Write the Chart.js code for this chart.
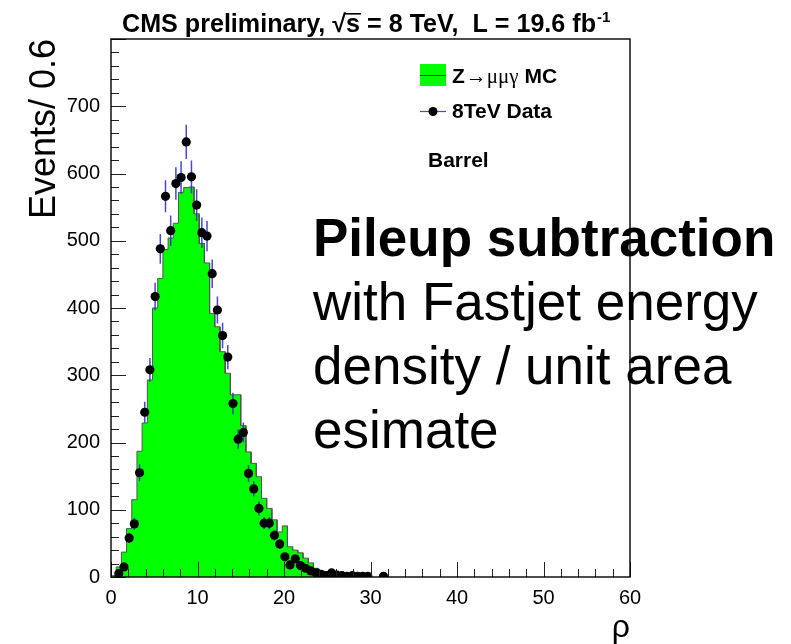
<!DOCTYPE html>
<html>
<head>
<meta charset="utf-8">
<title>rho - Barrel</title>
<script src="https://cdn.jsdelivr.net/npm/chart.js@4.4.1/dist/chart.umd.min.js"></script>
<style>
  html, body { margin: 0; padding: 0; background: #fff; }
  #wrap { width: 791px; height: 644px; }
</style>
</head>
<body>
<div id="wrap"><canvas id="rhoChart" width="791" height="644"></canvas></div>
<script>
// rho distribution, Z->mumugamma MC vs 8 TeV data (barrel)

const binWidth = 0.6;

// MC histogram, one value per bin starting at rho = 0
const mcCounts = [
  2, 15, 37, 72, 115, 187, 229, 293, 400, 444,
  487, 504, 526, 572, 579, 580, 540, 496, 467, 392,
  372, 335, 303, 271, 271, 225, 186, 169, 149, 117,
  102, 85, 67, 76, 45, 40, 36, 28, 21, 13,
  8, 5, 3, 2, 1, 1
];

// data, one value per bin starting at rho = 0 (0 = no point)
const dataCounts = [
  0, 5, 15, 58, 79, 155, 245, 308, 417, 488,
  566, 515, 585, 594, 647, 595, 553, 512, 507, 451,
  397, 359, 327, 258, 205, 215, 154, 131, 102, 80,
  80, 62, 49, 30, 18, 27, 17, 13, 9, 6,
  4, 2, 6, 3, 2, 1, 2, 1, 1, 1,
  0, 0, 1
];

const xTickValues = [0, 10, 20, 30, 40, 50, 60];
const yTickValues = [0, 100, 200, 300, 400, 500, 600, 700];
const xMinorStep = 2;
const yMinorStep = 20;

const mcLabel = "Z\u2192\u03bc\u03bc\u03b3 MC";
const dataLabel = "8TeV Data";
const noteLines = ["with Fastjet energy", "density / unit area", "esimate"];

const sans = "'Liberation Sans', Arial, Helvetica, sans-serif";
const serif = "'Liberation Serif', 'Times New Roman', serif";

// histogram outline points (left and right edge of each bin)
const mcPoints = [{ x: 0, y: 0 }];
mcCounts.forEach((v, i) => {
  mcPoints.push({ x: i * binWidth, y: v });
  mcPoints.push({ x: (i + 1) * binWidth, y: v });
});
mcPoints.push({ x: mcCounts.length * binWidth, y: 0 });

const dataPoints = [];
dataCounts.forEach((v, i) => {
  if (v > 0) dataPoints.push({ x: (i + 0.5) * binWidth, y: v });
});

// ROOT-like frame with inward ticks (bottom and left only)
const frameTicks = {
  id: "frameTicks",
  afterDatasetsDraw(chart) {
    const { ctx, chartArea: a, scales: { x, y } } = chart;
    ctx.save();
    ctx.strokeStyle = "#222";
    ctx.lineWidth = 1;
    ctx.beginPath();
    for (let v = x.min; v <= x.max + 1e-9; v += xMinorStep) {
      const px = Math.round(x.getPixelForValue(v)) + 0.5;
      const len = xTickValues.includes(v) ? 15 : 8;
      ctx.moveTo(px, a.bottom);
      ctx.lineTo(px, a.bottom - len);
    }
    for (let v = y.min; v <= y.max + 1e-9; v += yMinorStep) {
      const py = Math.round(y.getPixelForValue(v)) + 0.5;
      const len = v % 100 === 0 ? 15 : 8;
      ctx.moveTo(a.left, py);
      ctx.lineTo(a.left + len, py);
    }
    ctx.stroke();
    ctx.lineWidth = 1.4;
    ctx.strokeStyle = "#000";
    ctx.strokeRect(a.left, a.top, a.right - a.left, a.bottom - a.top);
    ctx.restore();
  }
};

// sqrt(N) error bars under the data points
const errorBars = {
  id: "errorBars",
  beforeDatasetDraw(chart, args) {
    if (args.index !== 0) return;
    const { ctx, chartArea: a, scales: { y } } = chart;
    const pts = chart.data.datasets[0].data;
    ctx.save();
    ctx.beginPath();
    ctx.rect(a.left, a.top, a.right - a.left, a.bottom - a.top);
    ctx.clip();
    ctx.strokeStyle = "rgba(40, 40, 200, 0.85)";
    ctx.lineWidth = 1.5;
    ctx.beginPath();
    args.meta.data.forEach((el, i) => {
      const n = pts[i].y;
      const e = Math.sqrt(n);
      ctx.moveTo(el.x, y.getPixelForValue(n + e));
      ctx.lineTo(el.x, y.getPixelForValue(n - e));
    });
    ctx.stroke();
    ctx.restore();
  }
};

function drawFitted(ctx, text, x, y, width) {
  const w = ctx.measureText(text).width;
  const sx = Math.min(1.15, width / w);
  ctx.save();
  ctx.translate(x, y);
  ctx.scale(sx, 1);
  ctx.fillText(text, 0, 0);
  ctx.restore();
  return sx;
}

// title, legend and the notes on top of the plot
const annotations = {
  id: "annotations",
  afterDraw(chart) {
    const ctx = chart.ctx;
    ctx.save();
    ctx.fillStyle = "#000";
    ctx.textBaseline = "alphabetic";
    ctx.textAlign = "left";

    // title
    const pre = "CMS preliminary, \u221a";
    const main = pre + "s = 8 TeV,  L = 19.6 fb";
    ctx.font = "bold 25px 'Liberation Sans Narrow', " + sans;
    const sx = drawFitted(ctx, main, 122, 32, 474);
    const sStart = 122 + ctx.measureText(pre).width * sx;
    const sW = ctx.measureText("s").width * sx;
    ctx.fillRect(sStart - 1, 13, sW + 2, 1.6);
    const endX = 122 + ctx.measureText(main).width * sx;
    ctx.font = "bold 15px 'Liberation Sans Narrow', " + sans;
    ctx.fillText("-1", endX + 1, 22);

    // legend: MC
    ctx.fillStyle = "#00ff00";
    ctx.fillRect(420, 64, 26, 22);
    ctx.strokeStyle = "#333";
    ctx.lineWidth = 1;
    ctx.beginPath();
    ctx.moveTo(420, 75.5);
    ctx.lineTo(446, 75.5);
    ctx.stroke();
    ctx.fillStyle = "#000";
    let tx = 452;
    ctx.font = "bold 21px " + sans;
    ctx.fillText(mcLabel.slice(0, 1), tx, 83);
    tx += ctx.measureText(mcLabel.slice(0, 1)).width + 1;
    ctx.font = "21px " + serif;
    ctx.fillText(mcLabel.slice(1, 5), tx, 83);
    tx += ctx.measureText(mcLabel.slice(1, 5)).width;
    ctx.font = "bold 21px " + sans;
    ctx.fillText(mcLabel.slice(5), tx, 83);

    // legend: data
    ctx.strokeStyle = "rgba(40, 40, 200, 0.85)";
    ctx.lineWidth = 1.2;
    ctx.beginPath();
    ctx.moveTo(420, 111.5);
    ctx.lineTo(446, 111.5);
    ctx.stroke();
    ctx.beginPath();
    ctx.arc(433, 111.5, 4.5, 0, Math.PI * 2);
    ctx.fill();
    ctx.fillText(dataLabel, 452, 118);

    ctx.fillText("Barrel", 428, 167);

    // note
    ctx.font = "bold 53px " + sans;
    ctx.fillText("Pileup subtraction", 313, 256);
    ctx.font = "53px " + sans;
    noteLines.forEach((t, i) => ctx.fillText(t, 313, 320 + i * 64));

    ctx.restore();
  }
};

new Chart(document.getElementById("rhoChart"), {
  type: "scatter",
  data: {
    datasets: [
      {
        label: dataLabel,
        data: dataPoints,
        pointRadius: 4.6,
        pointBackgroundColor: "#000",
        pointBorderWidth: 0,
        showLine: false
      },
      {
        label: mcLabel,
        type: "line",
        data: mcPoints,
        fill: "origin",
        backgroundColor: "#00ff00",
        borderColor: "#555",
        borderWidth: 1,
        pointRadius: 0,
        tension: 0
      }
    ]
  },
  options: {
    responsive: false,
    animation: false,
    events: [],
    layout: { padding: { left: 0, top: 39, right: 161, bottom: 0 } },
    plugins: {
      legend: { display: false },
      tooltip: { enabled: false },
      title: { display: false }
    },
    scales: {
      x: {
        type: "linear",
        min: 0,
        max: 60,
        grid: { display: false, drawTicks: false },
        border: { display: false },
        afterBuildTicks: s => { s.ticks = xTickValues.map(v => ({ value: v })); },
        afterFit: s => { s.height = 67; },
        ticks: {
          autoSkip: false,
          maxRotation: 0,
          padding: 9,
          color: "#000",
          font: { family: sans, size: 20 }
        },
        title: {
          display: true,
          text: "\u03c1",
          align: "end",
          color: "#000",
          font: { family: sans, size: 32, lineHeight: 1 },
          padding: { top: 0, bottom: 0 }
        }
      },
      y: {
        min: 0,
        max: 800,
        grid: { display: false, drawTicks: false },
        border: { display: false },
        afterBuildTicks: s => { s.ticks = yTickValues.map(v => ({ value: v })); },
        afterFit: s => { s.width = 111; },
        ticks: {
          padding: 11,
          color: "#000",
          font: { family: sans, size: 20 }
        },
        title: {
          display: true,
          text: "Events/ 0.6",
          align: "end",
          color: "#000",
          font: { family: sans, size: 36, lineHeight: 1 },
          padding: { top: 27, bottom: 0 }
        }
      }
    }
  },
  plugins: [errorBars, frameTicks, annotations]
});
</script>
</body>
</html>
